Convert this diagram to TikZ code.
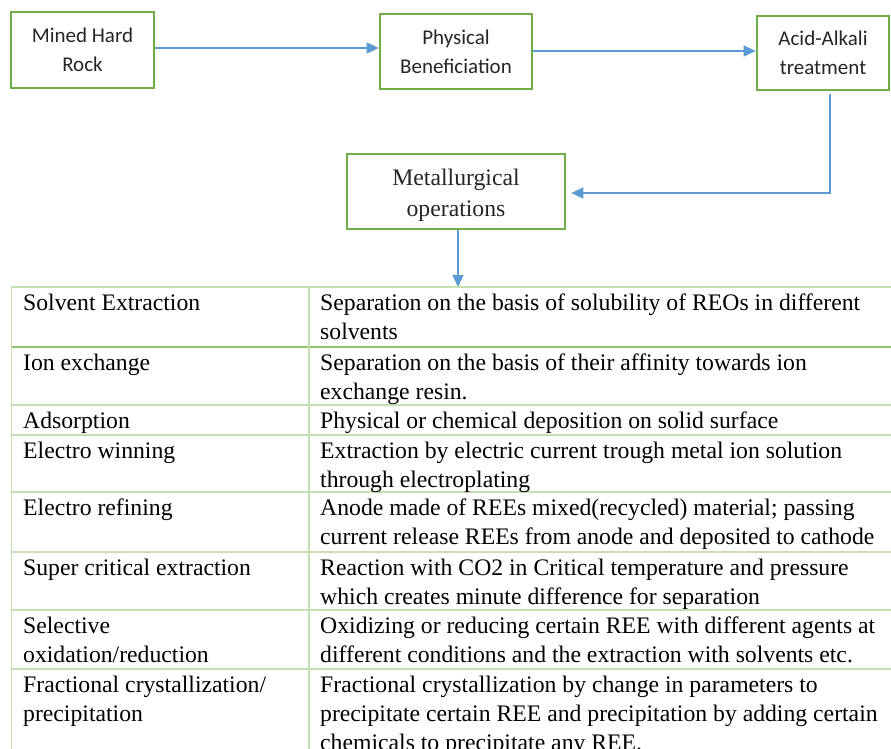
\documentclass[tikz,border=0pt]{standalone}
\usepackage{fontspec}
\setmainfont{Liberation Serif}
\newfontfamily\calib{Carlito}
\usetikzlibrary{arrows.meta}
\definecolor{bgreen}{HTML}{70AD47}
\definecolor{ablue}{HTML}{5B9BD5}
\definecolor{tgreen}{HTML}{C5E0B3}
\definecolor{tgreendark}{HTML}{8CC56A}
\begin{document}
\begin{tikzpicture}[x=1pt,y=-1pt,
  flowbox/.style={draw=bgreen, line width=2.7pt, inner sep=0pt, align=center, text=black!85},
  sansbox/.style={flowbox, font=\calib\fontsize{21}{29}\selectfont},
  serifbox/.style={flowbox, font=\fontsize{23.7}{31}\selectfont},
  arr/.style={draw=ablue, line width=1.4pt, -{Triangle[length=12pt,width=11pt]}},
  cell/.style={anchor=north west, inner sep=0pt, align=left, font=\fontsize{23.7}{29}\selectfont},
  tline/.style={draw=tgreen, line width=1.5pt},
  tlinedark/.style={draw=tgreendark, line width=1.5pt}]
\clip (0,0) rectangle (891,749);
\fill[white] (0,0) rectangle (891,749);

% flow boxes
\node[sansbox, minimum width=143pt, minimum height=76pt] (b1) at (82.5,50) {Mined Hard\\Rock};
\node[sansbox, minimum width=152pt, minimum height=75pt] (b2) at (456,51.5) {Physical\\Beneficiation};
\node[sansbox, minimum width=132pt, minimum height=74pt] (b3) at (823,53) {Acid-Alkali\\treatment};
\node[serifbox, minimum width=218pt, minimum height=75pt] (b4) at (456,191.5) {\rule{0pt}{24pt}Metallurgical\\operations};

% connectors
\coordinate (bend) at (830,193);
\coordinate (ttop) at (458,287);
\draw[arr] (b1.east |- 0,48) -- (b2.west |- 0,48);
\draw[arr] (b2.east |- 0,51) -- (b3.west |- 0,51);
\draw[arr] (bend |- b3.south) ++(0,3) -- (bend) -- ([xshift=5pt]b4.east |- bend);
\draw[arr] (b4.south -| ttop) -- (ttop);

% table grid
\draw[tline] (11,287) -- (891,287);
\draw[tlinedark] (11,347) -- (891,347);
\foreach \yy in {405,435,492,552,610,669}
  \draw[tline] (11,\yy) -- (891,\yy);
\draw[tline] (11.5,287) -- (11.5,749);
\draw[tline] (309,287) -- (309,749);

% table cells
\node[cell] (l1) at (23,289.7) {\strut Solvent Extraction};
\node[cell] (r1) at (320,289.7) {\strut Separation on the basis of solubility of REOs in different\\solvents};
\node[cell] (l2) at (23,349.7) {\strut Ion exchange};
\node[cell] (r2) at (320,349.7) {\strut Separation on the basis of their affinity towards ion\\exchange resin.};
\node[cell] (l3) at (23,407.7) {\strut Adsorption};
\node[cell] (r3) at (320,407.7) {\strut Physical or chemical deposition on solid surface};
\node[cell] (l4) at (23,437.7) {\strut Electro winning};
\node[cell] (r4) at (320,437.7) {\strut Extraction by electric current trough metal ion solution\\through electroplating};
\node[cell] (l5) at (23,494.7) {\strut Electro refining};
\node[cell] (r5) at (320,494.7) {\strut Anode made of REEs mixed(recycled) material; passing\\current release REEs from anode and deposited to cathode};
\node[cell] (l6) at (23,554.7) {\strut Super critical extraction};
\node[cell] (r6) at (320,554.7) {\strut Reaction with CO2 in Critical temperature and pressure\\which creates minute difference for separation};
\node[cell] (l7) at (23,612.7) {\strut Selective\\oxidation/reduction};
\node[cell] (r7) at (320,612.7) {\strut Oxidizing or reducing certain REE with different agents at\\different conditions and the extraction with solvents etc.};
\node[cell] (l8) at (23,671.7) {\strut Fractional crystallization/\\precipitation};
\node[cell] (r8) at (320,671.7) {\strut Fractional crystallization by change in parameters to\\precipitate certain REE and precipitation by adding certain\\chemicals to precipitate any REE.};
\end{tikzpicture}
\end{document}
